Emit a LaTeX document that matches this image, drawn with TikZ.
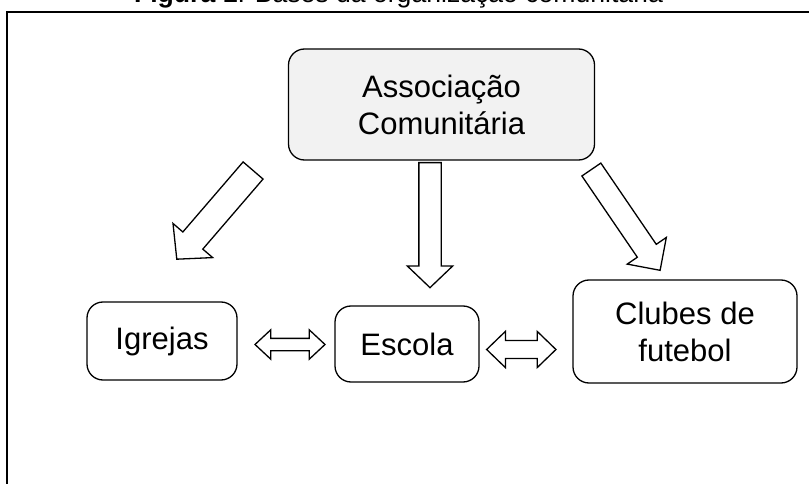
\documentclass[tikz,border=0pt]{standalone}
\usepackage{fontspec}
\setmainfont{Liberation Sans}
\usetikzlibrary{shapes.arrows}
\begin{document}
\begin{tikzpicture}[x=1pt,y=-1pt,
  box/.style={draw, line width=1.3pt, rounded corners=16pt, inner sep=0pt, align=center,
    font=\fontsize{31}{37}\selectfont},
  blockarrow/.style={draw, line width=1.3pt, fill=white, single arrow, inner xsep=0pt,
    single arrow head indent=0pt, anchor=tail},
  dblarrow/.style={draw, line width=1.3pt, fill=white, double arrow, inner xsep=0pt,
    double arrow head indent=0pt}]
\useasboundingbox (0,0) rectangle (809,484);
\clip (0,0) rectangle (809,484);
% frame
\draw[line width=1.6pt] (7,12) rectangle (880,560);
% title
\node[anchor=base, inner sep=0pt, font=\fontsize{26.6}{32}\selectfont] (title) at (398.5,3)
  {\textbf{Figura 1}: Bases da organização comunitária};
% boxes
\node[box, fill={rgb,255:red,242;green,242;blue,242}, minimum width=306pt, minimum height=111pt]
  (assoc) at (441.5,104.5) {Associação\\Comunitária};
\node[box, minimum width=150pt, minimum height=78pt] (igrejas) at (162,341) {Igrejas};
\node[box, minimum width=144pt, minimum height=76pt] (escola) at (407,344) {Escola};
\node[box, minimum width=224pt, minimum height=103pt] (clubes) at (685,331.5) {Clubes de\\futebol};
% block arrows
\node[blockarrow, rotate=-90, minimum height=125pt, inner ysep=10.5pt,
  single arrow head extend=11.5pt, single arrow tip angle=92.7] (adown) at (430,162) {};
\node[blockarrow, rotate=-130.7, minimum height=117pt, inner ysep=12.5pt,
  single arrow head extend=13pt, single arrow tip angle=93.5] (aleft) at (253.5,170) {};
\node[blockarrow, rotate=-55.7, minimum height=122pt, inner ysep=10.8pt,
  single arrow head extend=12.2pt, single arrow tip angle=90] (aright) at (591,169) {};
% double arrows
\node[dblarrow, minimum height=70pt, inner ysep=5.5pt,
  double arrow head extend=8.5pt, double arrow tip angle=86] (dab) at (290,344.5) {};
\node[dblarrow, minimum height=69.3pt, inner ysep=8.3pt,
  double arrow head extend=9.2pt, double arrow tip angle=88] (dbc) at (521.3,349.5) {};
\end{tikzpicture}
\end{document}
